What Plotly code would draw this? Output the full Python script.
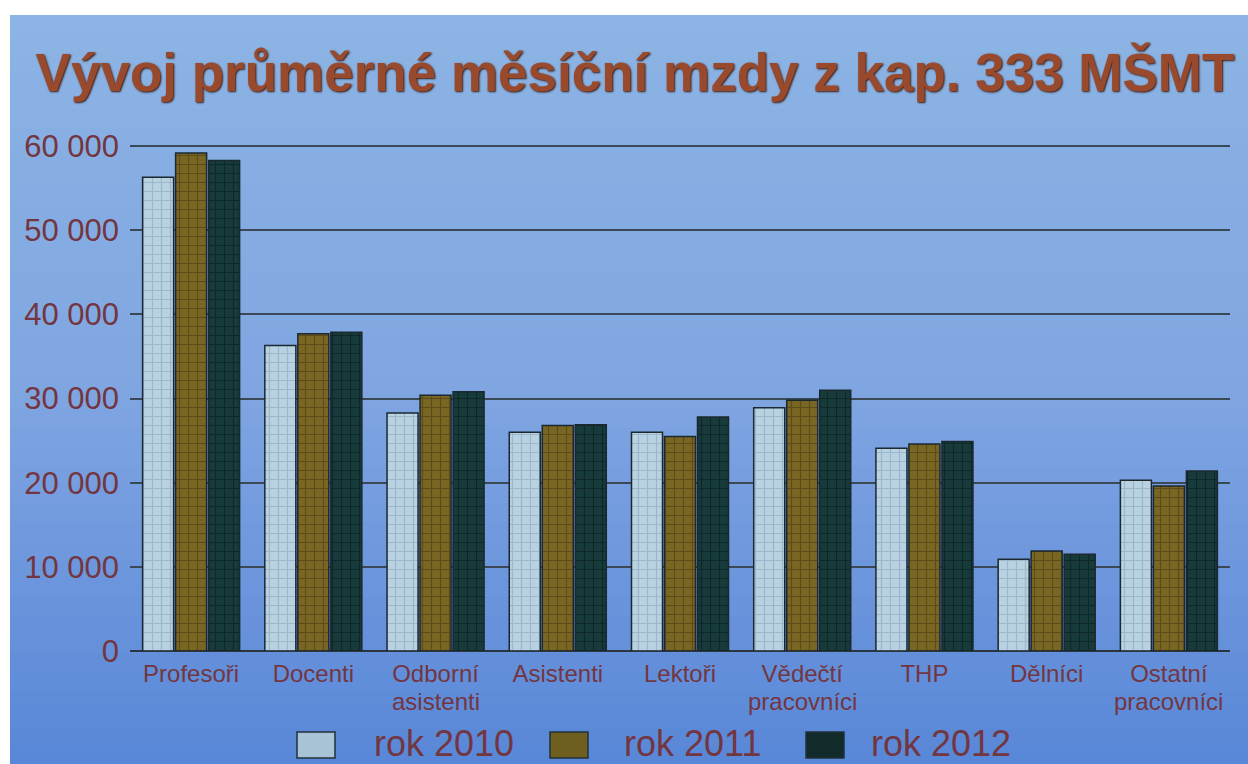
import plotly.graph_objects as go

# ---- data ----
categories = ["Profesoři", "Docenti", "Odborní asistenti", "Asistenti", "Lektoři",
              "Vědečtí pracovníci", "THP", "Dělníci", "Ostatní pracovníci"]
series_names = ["rok 2010", "rok 2011", "rok 2012"]
rok_2010 = [56300, 36300, 28300, 26000, 26000, 28900, 24100, 10900, 20300]
rok_2011 = [59200, 37700, 30400, 26800, 25500, 29800, 24600, 11900, 19600]
rok_2012 = [58300, 37900, 30800, 26900, 27800, 31000, 24900, 11500, 21400]
y_tick_values = [0, 10000, 20000, 30000, 40000, 50000, 60000]
title_text = "Vývoj průměrné měsíční mzdy z kap. 333 MŠMT"

# ---- styles ----
W, H = 1248, 764
L, R, T, B = 130, 18, 142, 113
bg_colors = ["#b9d2e2", "#7a6623", "#173a3a"]
fg_colors = ["#7f9bb0", "#3e3210", "#061414"]
legend_fill = ["#a9c3d6", "#6f5f1f", "#112a2a"]
text_color = "#733640"


def px_x(p):
    return (p - L) / (W - L - R)


def px_y(p):
    return (H - B - p) / (H - B - T)


fig = go.Figure()
for name, vals, bg, fg in zip(series_names, [rok_2010, rok_2011, rok_2012], bg_colors, fg_colors):
    fig.add_trace(go.Bar(
        x=categories, y=vals, name=name,
        marker=dict(color=bg, line=dict(color="#1b2830", width=1.5),
                    pattern=dict(shape="+", fgcolor=fg, bgcolor=bg, size=9, solidity=0.25)),
        showlegend=False,
    ))

# background gradient bands
shapes = []
n = 40
top_px, bot_px = 15, 766
c_top = (140, 180, 228)
c_mid = (128, 166, 226)
c_bot = (90, 136, 216)
for i in range(n):
    t = i / (n - 1)
    if t < 0.5:
        u = t / 0.5
        c = tuple(int(c_top[k] + (c_mid[k] - c_top[k]) * u) for k in range(3))
    else:
        u = (t - 0.5) / 0.5
        c = tuple(int(c_mid[k] + (c_bot[k] - c_mid[k]) * u) for k in range(3))
    y0 = top_px + (bot_px - top_px) * i / n
    y1 = top_px + (bot_px - top_px) * (i + 1) / n + 1
    shapes.append(dict(type="rect", xref="paper", yref="paper", layer="below",
                       x0=px_x(10), x1=px_x(1260), y0=px_y(y1), y1=px_y(y0),
                       fillcolor="rgb(%d,%d,%d)" % c, line=dict(width=0)))

annotations = []
# x tick labels: first line via ticktext, second line via annotation (tight spacing)
first_lines = [c.split(" ")[0] for c in categories]
for c in categories:
    parts = c.split(" ")
    if len(parts) > 1:
        annotations.append(dict(xref="x", yref="paper", x=c, y=px_y(702),
                                xanchor="center", yanchor="middle", showarrow=False,
                                text=" ".join(parts[1:]),
                                font=dict(family="Liberation Sans", size=24, color=text_color)))

# legend squares + labels
legend_sq_x = [297, 550, 806]
legend_tx_x = [372, 622, 869]
for name, sx, tx, col in zip(series_names, legend_sq_x, legend_tx_x, legend_fill):
    shapes.append(dict(type="rect", xref="paper", yref="paper",
                       x0=px_x(sx), x1=px_x(sx + 38), y0=px_y(758), y1=px_y(732),
                       fillcolor=col, line=dict(color="#22313a", width=1.5)))
    annotations.append(dict(xref="paper", yref="paper", x=px_x(tx), y=px_y(743),
                            xanchor="left", yanchor="middle", showarrow=False, text=name,
                            font=dict(family="Liberation Sans", size=36, color=text_color)))

fig.update_layout(
    width=W, height=H,
    margin=dict(l=L, r=R, t=T, b=B),
    paper_bgcolor="white",
    plot_bgcolor="rgba(0,0,0,0)",
    separators=", ",
    barmode="group",
    bargap=0.19,
    bargroupgap=0.06,
    shapes=shapes,
    annotations=annotations,
    title=dict(text=title_text, x=635 / W, xanchor="center",
               y=1 - 72 / H, yanchor="middle", yref="container",
               font=dict(family="Liberation Sans", weight="bold", size=53, color="#9a4a2c",
                         shadow="1px 1px 2px #3a1a10")),
    xaxis=dict(showgrid=False, showline=False, zeroline=False, ticks="",
               tickvals=categories, ticktext=first_lines,
               tickfont=dict(family="Liberation Sans", size=24, color=text_color),
               ticklabelstandoff=6),
    yaxis=dict(range=[0, 60500], tickvals=y_tick_values, tickformat=",d",
               showgrid=True, gridcolor="#3b4957", gridwidth=2,
               zeroline=True, zerolinecolor="#2a3540", zerolinewidth=2,
               showline=False, ticks="",
               tickfont=dict(family="Liberation Sans", size=31, color=text_color),
               ticklabelstandoff=10),
)

fig.write_html("out.html", config={"displayModeBar": False},
               post_script="document.body.style.margin='0';document.body.style.overflow='hidden';")
